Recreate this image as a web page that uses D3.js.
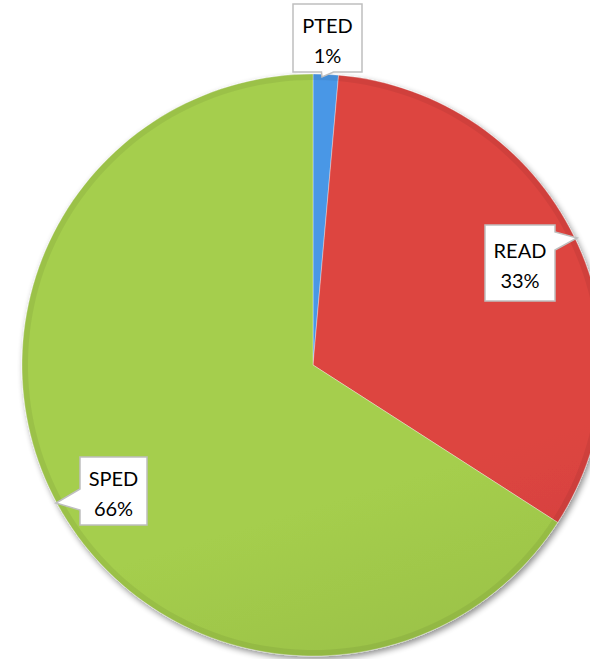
<!DOCTYPE html>
<html>
<head>
<meta charset="utf-8">
<script src="https://cdn.jsdelivr.net/npm/d3@7/dist/d3.min.js"></script>
<style>
html,body{margin:0;padding:0;background:#fff;}
svg{display:block;}
</style>
</head>
<body>
<script>
const categories = ["PTED", "READ", "SPED"];
const values = [1.4, 32.7, 65.9];
const percentLabels = ["1%", "33%", "66%"];

const W = 590, H = 659;
const cx = 313, cy = 365, R = 291;

const colorTop = {PTED: "#4a97e6", READ: "#dd4541", SPED: "#a5ce4d"};
const colorBot = {PTED: "#2f74c0", READ: "#b5312e", SPED: "#83a53a"};

const svg = d3.select("body").append("svg").attr("width", W).attr("height", H);
const defs = svg.append("defs");

categories.forEach(c => {
  const g = defs.append("linearGradient").attr("id", "grad-" + c)
    .attr("gradientUnits", "userSpaceOnUse")
    .attr("x1", cx - R * 0.3).attr("y1", cy - R).attr("x2", cx + R * 0.3).attr("y2", cy + R);
  g.append("stop").attr("offset", "0%").attr("stop-color", colorTop[c]);
  g.append("stop").attr("offset", "100%").attr("stop-color", colorBot[c]);
});

const shadow = defs.append("filter").attr("id", "shadow")
  .attr("x", "-10%").attr("y", "-10%").attr("width", "130%").attr("height", "130%");
shadow.append("feGaussianBlur").attr("in", "SourceAlpha").attr("stdDeviation", 3);
shadow.append("feOffset").attr("dx", 2).attr("dy", 3).attr("result", "ob");
shadow.append("feComponentTransfer").append("feFuncA").attr("type", "linear").attr("slope", 0.45);
const merge = shadow.append("feMerge");
merge.append("feMergeNode");
merge.append("feMergeNode").attr("in", "SourceGraphic");

const data = categories.map((c, i) => ({cat: c, value: values[i], label: percentLabels[i]}));
const pie = d3.pie().sort(null).value(d => d.value);
const arcs = pie(data);
const arc = d3.arc().innerRadius(0).outerRadius(R);
const bevel = d3.arc().innerRadius(R - 6).outerRadius(R);

const pg = svg.append("g").attr("filter", "url(#shadow)");
pg.selectAll("path.slice").data(arcs).join("path")
  .attr("class", "slice")
  .attr("d", arc)
  .attr("transform", `translate(${cx},${cy})`)
  .attr("fill", d => `url(#grad-${d.data.cat})`)
  .attr("stroke", "rgba(255,255,255,0.35)")
  .attr("stroke-width", 1);
svg.append("g").attr("transform", `translate(${cx},${cy})`)
  .selectAll("path").data(arcs).join("path")
  .attr("d", bevel)
  .attr("fill", "rgba(0,0,0,0.06)");

// callouts
const boxes = {
  PTED: {x: 293, y: 4, w: 69, h: 68, side: "bottom"},
  READ: {x: 485, y: 225, w: 70, h: 76, side: "right"},
  SPED: {x: 80, y: 457, w: 67, h: 68, side: "left"}
};
const tips = {PTED: [322, 77], READ: [577, 238], SPED: [56, 503]};

const cg = svg.append("g");
arcs.forEach(d => {
  const b = boxes[d.data.cat];
  const [tx, ty] = tips[d.data.cat];
  const {x, y, w, h} = b;
  let p;
  if (b.side === "bottom") {
    const mx = x + w / 2;
    p = `M${x},${y}H${x + w}V${y + h}H${mx + 6}L${tx},${ty}L${mx - 6},${y + h}H${x}Z`;
  } else if (b.side === "right") {
    p = `M${x},${y}H${x + w}V${y + 7}L${tx},${ty}L${x + w},${y + 25}V${y + h}H${x}Z`;
  } else {
    p = `M${x},${y}H${x + w}V${y + h}H${x}V${y + 53}L${tx},${ty}L${x},${y + 32}Z`;
  }
  cg.append("path").attr("d", p).attr("fill", "#fff").attr("stroke", "#bfbfbf").attr("stroke-width", 1.5);
  const t = cg.append("text").attr("text-anchor", "middle")
    .attr("font-family", "Lato, 'Open Sans', sans-serif").attr("font-size", 20).attr("fill", "#000");
  t.append("tspan").attr("x", x + w / 2).attr("y", y + h / 2 - 5).text(d.data.cat);
  t.append("tspan").attr("x", x + w / 2).attr("y", y + h / 2 + 25).text(d.data.label);
});
</script>
</body>
</html>
